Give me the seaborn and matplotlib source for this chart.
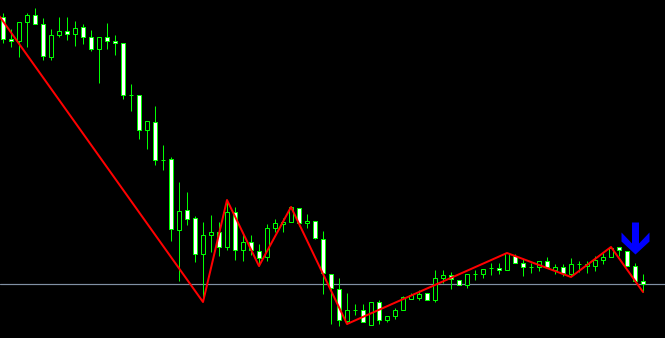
import numpy as np
import pandas as pd
import matplotlib
matplotlib.use("Agg")
import matplotlib.pyplot as plt
import seaborn as sns
from matplotlib.path import Path
from matplotlib.markers import MarkerStyle

# ---- data (price units) ----
opens = [321, 299, 297, 316, 323, 314, 281, 303, 307, 304, 311, 301, 289, 301, 297, 295,
         243, 243, 208, 216, 178, 179, 108, 128, 120, 84, 103, 106, 91, 126, 88, 96,
         87, 81, 110, 114, 116, 130, 115, 117, 99, 64, 49, 17, 28, 28, 13, 36,
         18, 22, 28, 39, 40, 45, 38, 60, 63, 58, 53, 64, 64, 70, 70, 68, 82, 75,
         71, 71, 77, 68, 71, 64, 74, 72, 72, 78, 81, 91, 87, 72, 57]
highs = [325, 309, 316, 325, 330, 320, 309, 321, 321, 317, 314, 308, 301, 315, 303, 295,
         254, 243, 217, 232, 193, 181, 156, 146, 122, 116, 123, 116, 138, 131, 104, 103,
         94, 114, 119, 120, 132, 130, 124, 117, 107, 64, 60, 45, 34, 34, 36, 38,
         22, 30, 42, 45, 48, 45, 68, 68, 66, 58, 64, 68, 69, 75, 75, 85, 84, 79,
         75, 77, 81, 74, 74, 80, 77, 77, 82, 85, 91, 91, 87, 75, 64]
lows = [295, 291, 281, 291, 314, 278, 278, 301, 298, 292, 294, 287, 255, 289, 283, 239,
        227, 199, 189, 173, 168, 97, 57, 113, 76, 38, 86, 82, 88, 78, 77, 83,
        72, 77, 106, 106, 116, 112, 110, 99, 44, 14, 12, 14, 23, 16, 13, 14,
        16, 19, 28, 39, 38, 38, 36, 55, 49, 53, 50, 58, 60, 63, 64, 68, 75, 62,
        65, 67, 70, 64, 62, 62, 66, 65, 67, 74, 81, 82, 72, 57, 46]
closes = [299, 297, 316, 323, 314, 282, 303, 307, 304, 310, 301, 289, 301, 297, 295, 243,
          243, 208, 217, 178, 178, 109, 127, 119, 84, 103, 106, 91, 126, 88, 96, 88,
          80, 110, 115, 116, 131, 115, 117, 100, 65, 50, 18, 28, 28, 16, 36, 18,
          22, 28, 41, 43, 44, 38, 60, 63, 59, 53, 64, 64, 69, 70, 68, 85, 75, 71,
          71, 77, 71, 71, 65, 74, 74, 74, 78, 81, 90, 88, 72, 57, 54]

# zigzag indicator pivots (bar index, price)
zz_bar = [-1, 25, 28, 32, 36, 43, 63, 71, 76, 80]
zz_price = [328, 36, 138, 72, 131, 14, 85, 61, 91, 46]

# sell-signal arrow bar
signal_bar = 79

GREEN = "#00ff00"
PX = 0.72  # one pixel in points at dpi 100

sns.set_theme(style="dark")
fig = plt.figure(figsize=(6.65, 3.38), dpi=100, facecolor="black")
ax = fig.add_axes([0, 0, 1, 1])
ax.set_facecolor("black")

df = pd.DataFrame({"bar": np.arange(len(opens)), "open": opens, "high": highs,
                   "low": lows, "close": closes})
bull = df["close"] >= df["open"]
bottoms = np.minimum(df["open"], df["close"])
heights = np.abs(df["close"] - df["open"])

# wicks
ax.vlines(df["bar"], df["low"], df["high"], color=GREEN, lw=PX, zorder=2)
# bodies
ax.bar(df["bar"], heights, bottom=bottoms, width=0.55,
       color=np.where(bull, "black", "white"), edgecolor=GREEN,
       linewidth=PX, zorder=3)

# bid line at last close
ax.axhline(df["close"].iloc[-1], color="#8090a4", lw=1.2 * PX, zorder=1)

# zigzag
sns.lineplot(x=zz_bar, y=zz_price, color="red", lw=2 * PX, ax=ax, zorder=4,
             sort=False)

# down arrow marker
verts = [(-3.5, 16), (3.5, 16), (3.5, -5), (14, 6), (14, -3), (0, -16),
         (-14, -3), (-14, 6), (-3.5, -5), (-3.5, 16)]
codes = [Path.MOVETO] + [Path.LINETO] * (len(verts) - 2) + [Path.CLOSEPOLY]
arrow = MarkerStyle(Path(verts, codes))
ax.plot([signal_bar], [highs[signal_bar] + 25], marker=arrow, markersize=32 * PX,
        color="#0000ff", markeredgewidth=0, linestyle="", zorder=5)

ax.set_xlim(-0.375, 82.75)
ax.set_ylim(0, 338)
ax.axis("off")

fig.savefig("out.png", dpi=100, facecolor="black")
